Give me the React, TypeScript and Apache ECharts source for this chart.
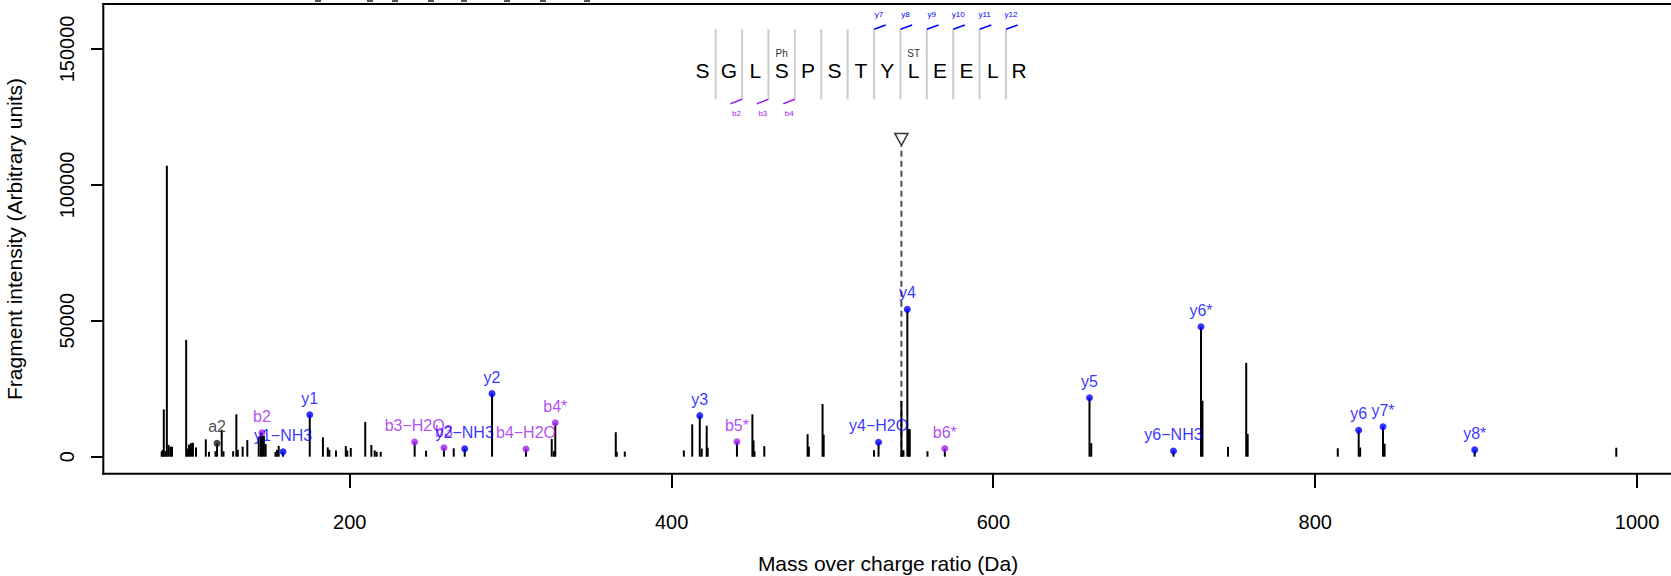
import React, { useEffect, useRef } from "react";
import * as echarts from "echarts";

// ---- spectrum peaks (m/z, intensity) ----
const peakMz = [
  83.1, 83.8, 84.4, 85.3, 86.3, 87.4, 88.5, 89.5, 98.3, 99.1, 100.1, 101.3, 102.5, 104.4,
  110.5, 112.5, 116.5, 117.5, 120.4, 121.5, 127.5, 129.5, 130.4, 133.4, 136.3, 143.4, 144.8,
  145.4, 146.6, 147.7, 153.8, 154.8, 155.8, 158.5, 175.1, 183.3, 186.3, 187.3, 191.4, 197.5,
  198.4, 200.6, 209.6, 213.4, 215.5, 216.7, 219.2, 240.3, 247.4, 258.5, 264.6, 271.4, 288.4,
  309.5, 325.5, 326.9, 327.7, 365.3, 365.9, 370.9, 407.6, 412.8, 417.5, 418.7, 421.8, 422.4,
  440.6, 450.2, 450.9, 451.5, 457.6, 484.5, 485.3, 493.8, 494.5, 525.8, 528.6, 542.8, 543.4,
  544.1, 546.5, 547.4, 548.0, 559.0, 569.8, 659.7, 660.8, 711.9, 729.0, 729.9, 745.8, 757.1,
  758.0, 814.0, 827.0, 827.9, 842.1, 843.1, 899.1, 987.1,
];
const peakIntensity = [
  2000, 2500, 17400, 2000, 107000, 4300, 3700, 3700, 43000, 3000, 4500, 5000, 5100, 3400,
  6400, 1800, 2000, 4900, 9900, 2000, 2000, 15600, 2500, 3700, 6100, 7400, 8600,
  8800, 7700, 4700, 1800, 2500, 4000, 1800, 15400, 7100, 3400, 2500, 2300, 3900,
  2300, 3200, 12800, 4300, 2300, 1800, 1800, 5400, 2200, 3300, 3100, 2900, 23200,
  2800, 6500, 2000, 12500, 9000, 1800, 1900, 2300, 11900, 15100, 3000, 11400, 3300,
  5500, 15600, 6000, 2000, 3900, 8300, 3700, 19400, 8100, 2400, 5300, 20500, 2500,
  2300, 54200, 10100, 10100, 2000, 3000, 21700, 5000, 2100, 47800, 20600, 3600, 34500,
  8400, 3100, 9700, 3400, 11000, 4800, 2500, 3300,
];

// ---- annotated fragment ions ----
const ionLabel = [
  "a2", "b2", "y1\u2212NH3", "y1", "b3\u2212H2O", "b3", "y2\u2212NH3", "y2", "b4\u2212H2O", "b4*",
  "y3", "b5*", "y4\u2212H2O", "y4", "b6*", "y5", "y6\u2212NH3", "y6*", "y6", "y7*", "y8*",
];
const ionMz = [
  117.5, 145.4, 158.5, 175.1, 240.3, 258.5, 271.4, 288.4, 309.5, 327.7,
  417.5, 440.6, 528.6, 546.5, 569.8, 659.7, 711.9, 729.0, 827.0, 842.1, 899.1,
];
const ionIntensity = [
  4900, 8800, 1800, 15400, 5400, 3300, 2900, 23200, 2800, 12500,
  15100, 5500, 5300, 54200, 3000, 21700, 2100, 47800, 9700, 11000, 2500,
];
const ionType = [
  "a", "b", "y", "y", "b", "b", "y", "y", "b", "b",
  "y", "b", "y", "y", "b", "y", "y", "y", "y", "y", "y",
];

// ---- precursor ----
const precursorMz = 542.8;
const precursorMark = 116700;
const precursorLineTop = 114300;

// ---- axes ----
const xMin = 46.8;
const xMax = 1021.1;
const yMin = -6254;
const yMax = 166548;
const xTicks = [200, 400, 600, 800, 1000];
const yTicks = [0, 50000, 100000, 150000];

// ---- peptide sequence annotation ----
const sequence = ["S", "G", "L", "S", "P", "S", "T", "Y", "L", "E", "E", "L", "R"];
const yFragLabels = ["y7", "y8", "y9", "y10", "y11", "y12"];
const yFragSplit = [7, 8, 9, 10, 11, 12];
const bFragLabels = ["b2", "b3", "b4"];
const bFragSplit = [2, 3, 4];
const modLabels = ["Ph", "ST"];
const modResidue = [4, 9];

const FONT = "'Liberation Sans', Arial, Helvetica, sans-serif";
const COLORS: Record<string, string> = { y: "#0000FF", b: "#A020F0", a: "#1a1a1a" };

export default function App() {
  const ref = useRef<HTMLDivElement>(null);

  useEffect(() => {
    const chart = echarts.init(ref.current as HTMLDivElement, null, { renderer: "svg" });

    const peaks = peakMz.map((m, i) => [m, peakIntensity[i]]);

    const ionSeries = (t: string) => ({
      type: "scatter",
      silent: true,
      z: t === "y" ? 5 : 4,
      symbol: "circle",
      symbolSize: 7,
      itemStyle: { color: COLORS[t] },
      label: {
        show: true,
        position: "top",
        distance: 5,
        formatter: "{b}",
        color: COLORS[t],
        fontSize: 16,
        fontFamily: FONT,
      },
      data: ionLabel
        .map((l, i) => ({ name: l, value: [ionMz[i], ionIntensity[i]], t: ionType[i] }))
        .filter((d) => d.t === t)
        .map((d) => ({ name: d.name, value: d.value })),
    });

    chart.setOption({
      animation: false,
      backgroundColor: "#fff",
      grid: {
        left: 103.3,
        right: 0,
        top: 4,
        bottom: 102.3,
        show: false,
      },
      xAxis: {
        type: "value",
        position: "bottom",
        min: xMin,
        max: xMax,
        axisLine: { show: false, onZero: false },
        splitLine: { show: false },
        axisTick: { show: false },
        axisLabel: {
          customValues: xTicks,
          formatter: (v: number) => String(v),
          fontSize: 20,
          color: "#000",
          margin: 38,
          fontFamily: FONT,
        },
      },
      yAxis: {
        type: "value",
        position: "left",
        min: yMin,
        max: yMax,
        axisLine: { show: false, onZero: false },
        splitLine: { show: false },
        axisTick: { show: false },
        axisLabel: {
          customValues: yTicks,
          formatter: (v: number) => String(v),
          rotate: 90,
          fontSize: 20,
          color: "#000",
          margin: 26,
          fontFamily: FONT,
        },
      },
      series: [
        {
          type: "line",
          silent: true,
          symbol: "none",
          z: 2,
          lineStyle: { color: "#4d4d4d", width: 2, type: [6, 4] },
          data: [
            [precursorMz, 0],
            [precursorMz, precursorLineTop],
          ],
        },
        {
          type: "custom",
          silent: true,
          z: 3,
          encode: { x: 0, y: 1 },
          data: peaks,
          renderItem: (_p: any, api: any) => {
            const x = api.value(0);
            const y = api.value(1);
            const a = api.coord([x, 0]);
            const b = api.coord([x, y]);
            return {
              type: "line",
              shape: { x1: a[0], y1: a[1], x2: b[0], y2: b[1] },
              style: { stroke: "#000", lineWidth: 2 },
            };
          },
        },
        ionSeries("a"),
        ionSeries("b"),
        ionSeries("y"),
        {
          type: "scatter",
          silent: true,
          z: 6,
          symbol: "triangle",
          symbolRotate: 180,
          symbolSize: [13, 12],
          itemStyle: { color: "rgba(0,0,0,0)", borderColor: "#000", borderWidth: 1.5 },
          data: [[precursorMz, precursorMark]],
        },
      ],
    });

    // ---------- graphic overlay (box, ticks, sequence, titles) ----------
    const px = (x: number, y: number) => chart.convertToPixel({ gridIndex: 0 }, [x, y]) as number[];
    const graphics: any[] = [];
    const txt = (x: number, y: number, text: string, fill: string, fontSize: number, extra: any = {}) => ({
      type: "text",
      x,
      y,
      silent: true,
      ...extra,
      style: {
        text,
        fill,
        fontSize,
        fontFamily: FONT,
        textAlign: "center",
        textVerticalAlign: "middle",
        verticalAlign: "middle",
      },
    });
    const ln = (x1: number, y1: number, x2: number, y2: number, stroke: string, lineWidth: number) => ({
      type: "line",
      silent: true,
      z: 50,
      shape: { x1, y1, x2, y2 },
      style: { stroke, lineWidth },
    });

    // plot box (top, left, bottom; right side lies beyond the page)
    const tl = px(xMin, yMax);
    const bl = px(xMin, yMin);
    const br = px(xMax, yMin);
    const tr = px(xMax, yMax);
    graphics.push(ln(tl[0] - 1, tl[1], tr[0] + 4, tr[1], "#000", 2));
    graphics.push(ln(tl[0], tl[1] - 1, bl[0], bl[1] + 1, "#000", 2));
    graphics.push(ln(bl[0] - 1, bl[1], br[0] + 4, br[1], "#000", 2));

    // ticks (as filled rectangles, snapped to whole pixels)
    xTicks.forEach((v) => {
      const p = px(v, yMin);
      graphics.push({
        type: "rect",
        silent: true,
        z: 60,
        shape: { x: Math.round(p[0] - 1), y: Math.round(p[1]), width: 2, height: 14 },
        style: { fill: "#000" },
      });
    });
    yTicks.forEach((v) => {
      const p = px(xMin, v);
      graphics.push({
        type: "rect",
        silent: true,
        z: 60,
        shape: { x: Math.round(p[0] - 12.5), y: Math.round(p[1] - 1), width: 12.5, height: 2 },
        style: { fill: "#000" },
      });
    });

    // sequence layout (pixel positions)
    const sepX = (k: number) => 689.3 + 26.39 * k;
    for (let k = 1; k <= 12; k++) {
      graphics.push({
        type: "line",
        shape: { x1: sepX(k), y1: 29.3, x2: sepX(k), y2: 99.3 },
        style: { stroke: "#cccccc", lineWidth: 2 },
        silent: true,
      });
    }
    sequence.forEach((r, i) => graphics.push(txt(sepX(i + 1) - 13.2, 70.7, r, "#000", 21)));
    modLabels.forEach((m, i) => graphics.push(txt(sepX(modResidue[i]) - 13.2, 53.3, m, "#333", 10)));
    yFragLabels.forEach((l, i) => {
      const x = sepX(yFragSplit[i]);
      graphics.push({
        type: "line",
        shape: { x1: x, y1: 29.3, x2: x + 11.7, y2: 25 },
        style: { stroke: COLORS.y, lineWidth: 1.5 },
        silent: true,
      });
      graphics.push(txt(x + 5, 14, l, COLORS.y, 8));
    });
    bFragLabels.forEach((l, i) => {
      const x = sepX(bFragSplit[i]);
      graphics.push({
        type: "line",
        shape: { x1: x, y1: 99.3, x2: x - 11.6, y2: 103.7 },
        style: { stroke: COLORS.b, lineWidth: 1.5 },
        silent: true,
      });
      graphics.push(txt(x - 5.6, 113.3, l, COLORS.b, 8));
    });
    // clipped marks at the very top edge
    [318, 370, 395, 431, 464, 507, 543, 587].forEach((x) => {
      graphics.push({
        type: "rect",
        shape: { x: x - 3, y: 0, width: 6, height: 2 },
        style: { fill: "#555" },
        silent: true,
      });
    });
    // axis titles
    graphics.push(txt(888, 563, "Mass over charge ratio (Da)", "#000", 21));
    graphics.push(txt(14, 239, "Fragment intensity (Arbitrary units)", "#000", 21, { rotation: Math.PI / 2 }));

    chart.setOption({ graphic: graphics });

    return () => {
      chart.dispose();
    };
  }, []);

  return (
    <div
      ref={ref}
      style={{ position: "absolute", left: 0, top: 0, width: 1671, height: 576, background: "#fff" }}
    />
  );
}
